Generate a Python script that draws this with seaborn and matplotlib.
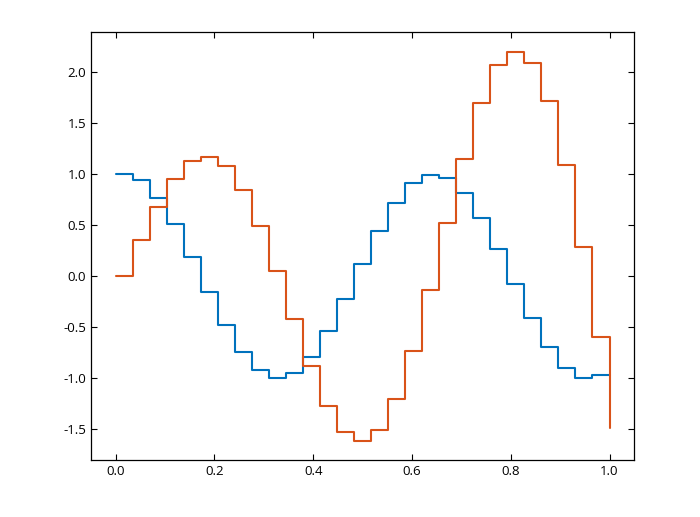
import numpy as np
import pandas as pd
import matplotlib
matplotlib.use('Agg')
import matplotlib.pyplot as plt
import seaborn as sns

# step positions (30 samples on 0..1)
x_vals = np.linspace(0, 1, 30)

blue_vals = [1.00, 0.944, 0.767, 0.511, 0.184, -0.157, -0.478, -0.747, -0.924, -1.003,
             -0.954, -0.796, -0.541, -0.226, 0.115, 0.44, 0.718, 0.915, 0.99, 0.964,
             0.813, 0.57, 0.262, -0.082, -0.413, -0.701, -0.898, -0.996, -0.976, -0.97]

red_vals = [0.0, 0.351, 0.679, 0.954, 1.128, 1.17, 1.082, 0.843, 0.489, 0.049,
            -0.423, -0.885, -1.271, -1.527, -1.615, -1.507, -1.206, -0.737, -0.138, 0.515,
            1.151, 1.695, 2.065, 2.2, 2.085, 1.711, 1.092, 0.282, -0.6, -1.491]

sns.set_style('ticks')
plt.rcParams['font.family'] = ['Open Sans', 'DejaVu Sans']
plt.rcParams['axes.unicode_minus'] = False

df = pd.DataFrame({
    'x': np.concatenate([x_vals, x_vals]),
    'y': np.concatenate([blue_vals, red_vals]),
    'series': ['a'] * len(x_vals) + ['b'] * len(x_vals),
})

fig = plt.figure(figsize=(7, 5.17), dpi=100)
ax = fig.add_axes([0.13, 0.11, 0.776, 0.828])

sns.lineplot(data=df, x='x', y='y', hue='series', palette=['#0072BD', '#D95319'],
             drawstyle='steps-post', linewidth=1.5, legend=False, ax=ax,
             estimator=None, sort=False)

ax.set_xlabel('')
ax.set_ylabel('')
ax.set_xticks([0, 0.2, 0.4, 0.6, 0.8, 1.0])
ax.set_yticks([-1.5, -1.0, -0.5, 0.0, 0.5, 1.0, 1.5, 2.0])
ax.tick_params(direction='in', top=True, right=True, length=4, width=0.8,
               labelsize=9.5, colors='black')
for sp in ax.spines.values():
    sp.set_visible(True)
    sp.set_linewidth(0.9)
    sp.set_color('black')

fig.savefig('out.png', dpi=100)
